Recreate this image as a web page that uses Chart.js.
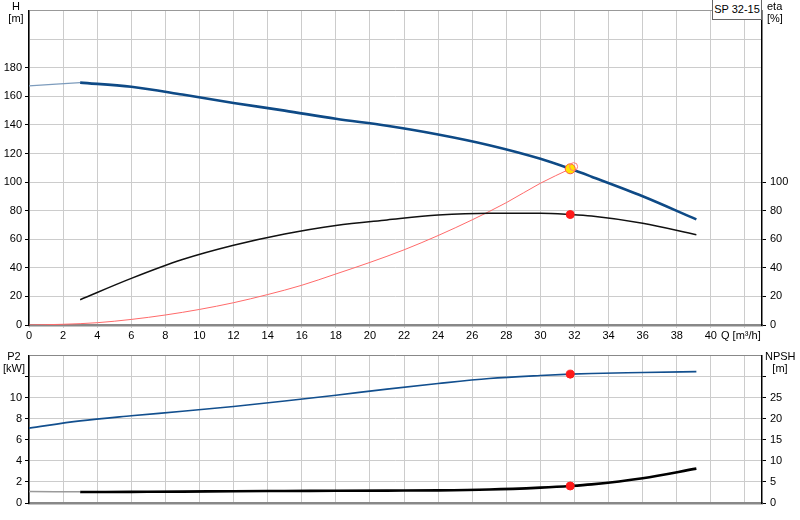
<!DOCTYPE html>
<html lang="en">

<head>
    <meta charset="UTF-8">
    <title>SP 32-15</title>
    <script src="https://cdn.jsdelivr.net/npm/chart.js"></script>
    <style>
        body {
            margin: 0;
            padding: 0;
            background: #fff;
            font-family: "Liberation Sans", Arial, sans-serif;
        }

        .wrap {
            position: relative;
            width: 800px;
            height: 520px;
            overflow: hidden;
        }

        #topChart {
            position: absolute;
            left: 0;
            top: 0;
        }

        #bottomChart {
            position: absolute;
            left: 0;
            top: 345px;
        }

        .lbl {
            position: absolute;
            font-size: 11px;
            line-height: 12px;
            color: #000;
            white-space: nowrap;
        }

        .center {
            width: 30px;
            text-align: center;
        }

        .model {
            position: absolute;
            left: 712px;
            top: -1px;
            width: 48px;
            height: 19px;
            border: 1px solid #666;
            background: #fff;
            font-size: 11px;
            line-height: 19px;
            text-align: center;
        }
    </style>
</head>

<body>
    <div class="wrap">
        <canvas id="topChart" width="800" height="345"></canvas>
        <canvas id="bottomChart" width="800" height="175"></canvas>

        <div class="lbl center" style="left:1px; top:0px;">H</div>
        <div class="lbl center" style="left:1px; top:12px;">[m]</div>
        <div class="lbl" style="left:767px; top:0px;">eta</div>
        <div class="lbl" style="left:767px; top:12px;">[%]</div>
        <div class="lbl" style="left:721px; top:329px;">Q [m³/h]</div>
        <div class="model">SP 32-15</div>

        <div class="lbl center" style="left:-1px; top:350px;">P2</div>
        <div class="lbl center" style="left:-1px; top:362px;">[kW]</div>
        <div class="lbl center" style="left:765px; top:350px;">NPSH</div>
        <div class="lbl center" style="left:765px; top:362px;">[m]</div>
    </div>

    <script>
        // Q values [m3/h]
        const qCurve = [3, 6, 9, 12, 15, 18, 21, 24, 27, 30, 31.75, 33, 36, 39.15];

        // Head H [m]
        const headExtQ = [0, 3];
        const headExt = [167.3, 169.6];
        const head = [169.6, 166.7, 161.3, 155.4, 150.0, 144.3, 139.4, 133.3, 125.8, 116.3, 109.3, 103.8, 90.1, 73.9];

        // Efficiency eta [%]
        const eta = [17.7, 32.6, 45.8, 55.8, 63.7, 69.7, 73.5, 76.9, 78.2, 78.2, 77.3, 76.2, 71.2, 63.2];

        // System curve (red)
        const sysQ = [0, 2, 4, 6, 8, 10, 12, 14, 16, 18, 20, 22, 24, 26, 28, 30, 31.75];
        const sysH = [0, 0.5, 1.6, 3.9, 7.0, 10.9, 15.6, 21.3, 27.8, 35.7, 43.8, 52.6, 62.6, 73.6, 85.6, 99.2, 109.3];

        // Power P2 [kW]
        const p2Q = [0, 3, 6, 9, 12, 15, 18, 21, 24, 27, 30, 31.75, 33, 36, 39.15];
        const p2 = [7.11, 7.8, 8.28, 8.71, 9.17, 9.69, 10.24, 10.82, 11.35, 11.82, 12.11, 12.24, 12.3, 12.39, 12.48];

        // NPSH [m]
        const npshExtQ = [0, 3];
        const npshExt = [2.74, 2.65];
        const npsh = [2.6, 2.65, 2.7, 2.8, 2.85, 2.9, 2.95, 3.0, 3.2, 3.66, 4.04, 4.42, 5.87, 8.16];

        // Duty point
        const dutyQ = 31.75;
        const dutyH = 109.3;
        const dutyEta = 77.3;
        const dutyP2 = 12.24;
        const dutyNpsh = 4.04;
        const requestedQ = 31.95;
        const requestedH = 110.8;

        // tick layout
        const qMax = 43;
        const qLabelMax = 40;
        const hMax = 220;
        const hLabelMax = 180;
        const etaLabelMax = 100;
        const p2Max = 14;
        const p2LabelMax = 10;
        const npshMax = 35;
        const npshLabelMax = 25;

        const pts = (xs, ys) => xs.map((x, i) => ({ x: x, y: ys[i] }));

        Chart.defaults.font.family = '"Liberation Sans", Arial, sans-serif';
        Chart.defaults.font.size = 11;
        Chart.defaults.color = '#000';

        const gridColor = '#cccccc';

        const lineDs = (data, color, width, axis) => ({
            data: data,
            borderColor: color,
            borderWidth: width,
            pointRadius: 0,
            fill: false,
            cubicInterpolationMode: 'monotone',
            yAxisID: axis
        });

        const dotDs = (data, fill, border, r, axis) => ({
            type: 'scatter',
            data: data,
            backgroundColor: fill,
            borderColor: border,
            borderWidth: 1,
            pointRadius: r,
            showLine: false,
            yAxisID: axis
        });

        const common = {
            responsive: false,
            animation: false,
            plugins: { legend: { display: false }, tooltip: { enabled: false } }
        };

        // Kurven oben: H, eta, Anlagenkennlinie
        new Chart(document.getElementById('topChart'), {
            type: 'line',
            data: {
                datasets: [
                    dotDs([{ x: requestedQ, y: requestedH }], 'rgba(255,255,255,0)', '#ff7a7a', 4, 'y'),
                    dotDs([{ x: dutyQ, y: dutyH }], '#ffe400', '#ff5a3c', 5, 'y'),
                    dotDs([{ x: dutyQ, y: dutyEta }], '#ff1a1a', '#ff1a1a', 4, 'y2'),
                    lineDs(pts(qCurve, head), '#0e4a86', 2.6, 'y'),
                    lineDs(pts(headExtQ, headExt), '#7d9cbd', 1.3, 'y'),
                    lineDs(pts(qCurve, eta), '#111111', 1.5, 'y2'),
                    lineDs(pts(sysQ, sysH), '#ff6a6a', 1, 'y')
                ]
            },
            options: {
                ...common,
                layout: { padding: { top: 1, left: 0, right: 0, bottom: 0 } },
                scales: {
                    x: {
                        type: 'linear',
                        min: 0,
                        max: qMax,
                        afterFit: s => { s.height = 20; },
                        afterBuildTicks: s => {
                            s.ticks = [];
                            for (let v = 0; v < qMax; v += 2) s.ticks.push({ value: v });
                        },
                        ticks: {
                            padding: 1,
                            maxRotation: 0,
                            autoSkip: false,
                            callback: v => (v <= qLabelMax ? v : '')
                        },
                        grid: { color: gridColor, tickColor: gridColor, tickLength: 3 },
                        border: { color: '#888888', width: 2.5 }
                    },
                    y: {
                        position: 'left',
                        min: 0,
                        max: hMax,
                        afterFit: s => { s.width = 29; },
                        ticks: {
                            stepSize: 20,
                            padding: 3,
                            callback: v => (v <= hLabelMax ? v : '')
                        },
                        grid: {
                            color: c => (c.tick && c.tick.value === hMax ? '#999999' : gridColor),
                            tickColor: c => (c.tick && c.tick.value <= hLabelMax ? '#000' : 'rgba(0,0,0,0)'),
                            tickLength: 4
                        },
                        border: { color: '#000', width: 1.5 }
                    },
                    y2: {
                        position: 'right',
                        min: 0,
                        max: hMax,
                        afterFit: s => { s.width = 38; },
                        ticks: {
                            stepSize: 20,
                            padding: 4,
                            callback: v => (v <= etaLabelMax ? v : '')
                        },
                        grid: {
                            drawOnChartArea: false,
                            tickColor: c => (c.tick && c.tick.value <= etaLabelMax ? '#000' : 'rgba(0,0,0,0)'),
                            tickLength: 4
                        },
                        border: { color: '#000', width: 1.5 }
                    }
                }
            }
        });

        // Kurven unten: P2, NPSH
        new Chart(document.getElementById('bottomChart'), {
            type: 'line',
            data: {
                datasets: [
                    dotDs([{ x: dutyQ, y: dutyP2 }], '#ff1a1a', '#ff1a1a', 4, 'y'),
                    dotDs([{ x: dutyQ, y: dutyNpsh }], '#ff1a1a', '#ff1a1a', 4, 'y2'),
                    lineDs(pts(p2Q, p2), '#124f8e', 1.6, 'y'),
                    lineDs(pts(npshExtQ, npshExt), '#9a9a9a', 1.5, 'y2'),
                    lineDs(pts(qCurve, npsh), '#000000', 2.6, 'y2')
                ]
            },
            options: {
                ...common,
                layout: { padding: { top: 5, left: 0, right: 0, bottom: 0 } },
                scales: {
                    x: {
                        type: 'linear',
                        min: 0,
                        max: qMax,
                        afterFit: s => { s.height = 17; },
                        afterBuildTicks: s => {
                            s.ticks = [];
                            for (let v = 0; v < qMax; v += 2) s.ticks.push({ value: v });
                        },
                        ticks: { display: false },
                        grid: { color: gridColor, drawTicks: false },
                        border: { color: '#888888', width: 2.5 }
                    },
                    y: {
                        position: 'left',
                        min: 0,
                        max: p2Max,
                        afterFit: s => { s.width = 29; },
                        ticks: {
                            stepSize: 2,
                            padding: 3,
                            callback: v => (v <= p2LabelMax ? v : '')
                        },
                        grid: {
                            color: c => (c.tick && c.tick.value === p2Max ? '#888888' : gridColor),
                            tickColor: c => (c.tick && c.tick.value <= 12 ? '#000' : 'rgba(0,0,0,0)'),
                            tickLength: 4
                        },
                        border: { color: '#000', width: 1.5 }
                    },
                    y2: {
                        position: 'right',
                        min: 0,
                        max: npshMax,
                        afterFit: s => { s.width = 38; },
                        ticks: {
                            stepSize: 5,
                            padding: 4,
                            callback: v => (v <= npshLabelMax ? v : '')
                        },
                        grid: {
                            drawOnChartArea: false,
                            tickColor: c => (c.tick && c.tick.value <= 30 ? '#000' : 'rgba(0,0,0,0)'),
                            tickLength: 4
                        },
                        border: { color: '#000', width: 1.5 }
                    }
                }
            }
        });
    </script>
</body>

</html>
